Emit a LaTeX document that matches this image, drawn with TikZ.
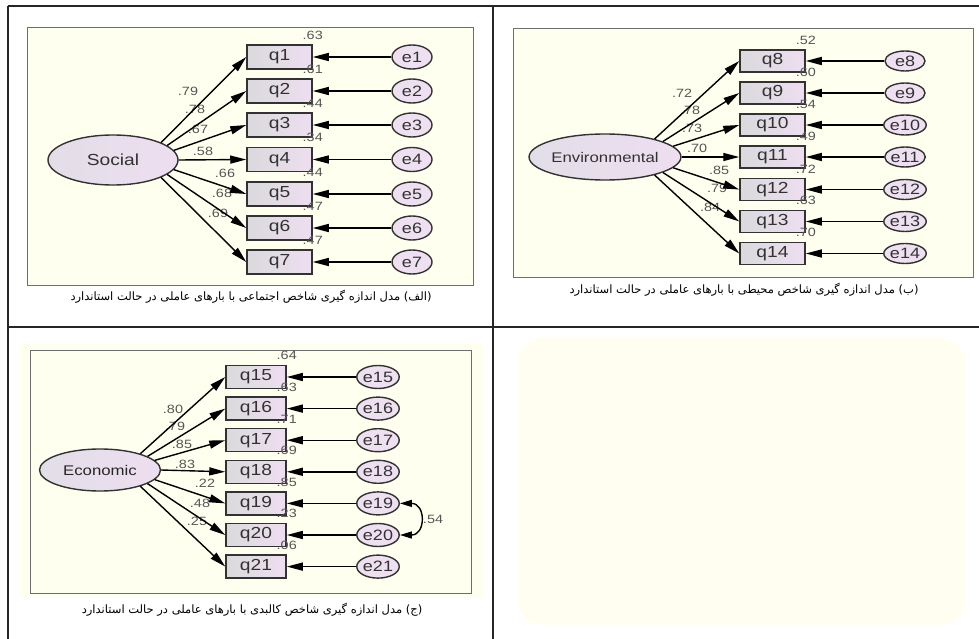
\documentclass[tikz,border=0pt]{standalone}
\usepackage{fontspec}
\usetikzlibrary{arrows.meta, shapes.geometric}
\newfontfamily\amosfont[FakeStretch=1.2]{Liberation Sans}
\newfontfamily\arabicfont[Script=Arabic]{DejaVu Sans}
\TeXXeTstate=1
\definecolor{panelbg}{RGB}{255,255,240}
\definecolor{panelline}{RGB}{110,110,110}
\definecolor{boxline}{RGB}{50,50,50}
\definecolor{boxL}{RGB}{218,218,220}
\definecolor{boxR}{RGB}{238,222,240}
\definecolor{latL}{RGB}{226,222,232}
\definecolor{errfill}{RGB}{238,224,240}
\definecolor{txt}{RGB}{50,50,50}
\definecolor{lbltxt}{RGB}{85,85,85}
\definecolor{cream}{RGB}{255,254,240}
\tikzset{
	obs/.style={rectangle, draw=boxline, line width=1.5pt, minimum width=65pt, minimum height=24pt, left color=boxL, right color=boxR, font=\amosfont\fontsize{16}{16}\selectfont, text=txt},
	err/.style={ellipse, draw=boxline, line width=1.4pt, fill=errfill, inner sep=0pt, minimum width=40pt, minimum height=24pt, font=\amosfont\fontsize{15}{15}\selectfont, text=txt},
	latent/.style={ellipse, draw=boxline, line width=1.4pt, left color=latL, right color=boxR, inner sep=0pt, text=txt},
	lbl/.style={font=\amosfont\fontsize{12}{12}\selectfont, text=lbltxt, inner sep=0pt},
	rsq/.style={lbl, anchor=south, yshift=4.5pt},
	arrow/.style={line width=1.4pt, -{Triangle[length=16pt,width=8pt]}},
	covar/.style={line width=1.4pt, {Triangle[length=12pt,width=7pt]}-{Triangle[length=12pt,width=7pt]}},
	panel/.style={draw=panelline, line width=1pt, fill=panelbg},
	caption/.style={font=\arabicfont\fontsize{11.5}{13}\selectfont, inner sep=0pt, text=black},
	rule/.style={line width=1.3pt, draw=black!85}
}
\begin{document}
\begin{tikzpicture}[x=1pt, y=-1pt]
	\useasboundingbox (0,0) rectangle (979,639);
	% Table
	\fill[cream, rounded corners=25pt] (518,338) rectangle (965,625);
	\draw[rule] (8,6) -- (979,6);
	\draw[rule] (8,6) -- (8,639);
	\draw[rule] (493,6) -- (493,639);
	\draw[rule] (8,327) -- (979,327);
	
	% Panel A: social
	\draw[panel] (27,28) rectangle (473,285);
	\node (S) [latent, minimum width=130pt, minimum height=50pt, font=\amosfont\fontsize{16}{16}\selectfont] at (113,160) {Social};
	\node (q1) [obs, label={[rsq]north east:.63}] at (279.5,57) {q1};
	\node (q2) [obs, label={[rsq]north east:.61}] at (279.5,91) {q2};
	\node (q3) [obs, label={[rsq]north east:.44}] at (279.5,125) {q3};
	\node (q4) [obs, label={[rsq]north east:.34}] at (279.5,159.5) {q4};
	\node (q5) [obs, label={[rsq]north east:.44}] at (279.5,194) {q5};
	\node (q6) [obs, label={[rsq]north east:.47}] at (279.5,228) {q6};
	\node (q7) [obs, label={[rsq]north east:.47}] at (279.5,262) {q7};
	\node (e1) [err] at (412,57) {e1};
	\node (e2) [err] at (412,91) {e2};
	\node (e3) [err] at (412,125) {e3};
	\node (e4) [err] at (412,159.5) {e4};
	\node (e5) [err] at (412,194) {e5};
	\node (e6) [err] at (412,228) {e6};
	\node (e7) [err] at (412,262) {e7};
	\node (l1) [lbl] at (188,91) {.79};
	\node (l2) [lbl] at (195,109) {.78};
	\node (l3) [lbl] at (198,129) {.67};
	\node (l4) [lbl] at (203,151) {.58};
	\node (l5) [lbl] at (225,173) {.66};
	\node (l6) [lbl] at (222,193) {.68};
	\node (l7) [lbl] at (218,213) {.69};
	\draw [arrow] (S.20) -- (q1.west);
	\draw [arrow] (S.15) -- (q2.west);
	\draw [arrow] (S.9) -- (q3.west);
	\draw [arrow] (S.0) -- (q4.west);
	\draw [arrow] (S.-9) -- (q5.west);
	\draw [arrow] (S.-15) -- (q6.west);
	\draw [arrow] (S.-20) -- (q7.west);
	\draw [arrow] (e1) -- (q1);
	\draw [arrow] (e2) -- (q2);
	\draw [arrow] (e3) -- (q3);
	\draw [arrow] (e4) -- (q4);
	\draw [arrow] (e5) -- (q5);
	\draw [arrow] (e6) -- (q6);
	\draw [arrow] (e7) -- (q7);
	\node (capA) [caption] at (251,297) {\beginR(الف) مدل اندازه گیری شاخص اجتماعی با بارهای عاملی در حالت استاندارد\endR};
	
	% Panel B: environmental
	\draw[panel] (513,29) rectangle (973,277);
	\node (V) [latent, minimum width=132pt, minimum height=46pt, font=\amosfont\fontsize{14}{14}\selectfont] at (605,157) {Environmental};
	\node (q8) [obs, minimum height=22pt, label={[rsq]north east:.52}] at (772.5,61) {q8};
	\node (q9) [obs, minimum height=22pt, label={[rsq]north east:.60}] at (772.5,93) {q9};
	\node (q10) [obs, minimum height=22pt, label={[rsq]north east:.54}] at (772.5,125) {q10};
	\node (q11) [obs, minimum height=22pt, label={[rsq]north east:.49}] at (772.5,157) {q11};
	\node (q12) [obs, minimum height=22pt, label={[rsq]north east:.72}] at (772.5,189.5) {q12};
	\node (q13) [obs, minimum height=22pt, label={[rsq]north east:.63}] at (772.5,221.5) {q13};
	\node (q14) [obs, minimum height=22pt, label={[rsq]north east:.70}] at (772.5,253.5) {q14};
	\node (e8) [err, minimum height=20pt] at (905,61) {e8};
	\node (e9) [err, minimum height=20pt] at (905,93) {e9};
	\node (e10) [err, minimum height=20pt] at (905,125) {e10};
	\node (e11) [err, minimum height=20pt] at (905,157) {e11};
	\node (e12) [err, minimum height=20pt] at (905,189.5) {e12};
	\node (e13) [err, minimum height=20pt] at (905,221.5) {e13};
	\node (e14) [err, minimum height=20pt] at (905,253.5) {e14};
	\node (l8) [lbl] at (682,93) {.72};
	\node (l9) [lbl] at (690,110) {.78};
	\node (l10) [lbl] at (692,128) {.73};
	\node (l11) [lbl] at (697,148) {.70};
	\node (l12) [lbl] at (719,170) {.85};
	\node (l13) [lbl] at (717,188) {.79};
	\node (l14) [lbl] at (710,207) {.84};
	\draw [arrow] (V.20) -- (q8.west);
	\draw [arrow] (V.15) -- (q9.west);
	\draw [arrow] (V.9) -- (q10.west);
	\draw [arrow] (V.0) -- (q11.west);
	\draw [arrow] (V.-9) -- (q12.west);
	\draw [arrow] (V.-15) -- (q13.west);
	\draw [arrow] (V.-20) -- (q14.west);
	\draw [arrow] (e8) -- (q8);
	\draw [arrow] (e9) -- (q9);
	\draw [arrow] (e10) -- (q10);
	\draw [arrow] (e11) -- (q11);
	\draw [arrow] (e12) -- (q12);
	\draw [arrow] (e13) -- (q13);
	\draw [arrow] (e14) -- (q14);
	\node (capB) [caption] at (744,290) {\beginR(ب) مدل اندازه گیری  شاخص محیطی با بارهای عاملی در حالت استاندارد\endR};
	
	% Panel C: economic
	\fill[panelbg] (20,343) rectangle (483,598);
	\draw[panel] (30,350) rectangle (471,593);
	\node (C) [latent, minimum width=121pt, minimum height=42pt, font=\amosfont\fontsize{14}{14}\selectfont, text=black!85] at (100,470) {Economic};
	\node (q15) [obs, minimum width=60pt, minimum height=23pt, label={[rsq]north east:.64}] at (256,377) {q15};
	\node (q16) [obs, minimum width=60pt, minimum height=23pt, label={[rsq]north east:.63}] at (256,408.6) {q16};
	\node (q17) [obs, minimum width=60pt, minimum height=23pt, label={[rsq]north east:.71}] at (256,440.2) {q17};
	\node (q18) [obs, minimum width=60pt, minimum height=23pt, label={[rsq]north east:.69}] at (256,471.8) {q18};
	\node (q19) [obs, minimum width=60pt, minimum height=23pt, label={[rsq]north east:.85}] at (256,503.4) {q19};
	\node (q20) [obs, minimum width=60pt, minimum height=23pt, label={[rsq]north east:.23}] at (256,535) {q20};
	\node (q21) [obs, minimum width=60pt, minimum height=23pt, label={[rsq]north east:.06}] at (256,566.6) {q21};
	\node (e15) [err, minimum width=38pt, minimum height=23pt] at (378,377) {e15};
	\node (e16) [err, minimum width=38pt, minimum height=23pt] at (378,408.6) {e16};
	\node (e17) [err, minimum width=38pt, minimum height=23pt] at (378,440.2) {e17};
	\node (e18) [err, minimum width=38pt, minimum height=23pt] at (378,471.8) {e18};
	\node (e19) [err, minimum width=38pt, minimum height=23pt] at (378,503.4) {e19};
	\node (e20) [err, minimum width=38pt, minimum height=23pt] at (378,535) {e20};
	\node (e21) [err, minimum width=38pt, minimum height=23pt] at (378,566.6) {e21};
	\node (l15) [lbl] at (173,409) {.80};
	\node (l16) [lbl] at (175,426) {.79};
	\node (l17) [lbl] at (182,444) {.85};
	\node (l18) [lbl] at (185,464) {.83};
	\node (l19) [lbl] at (205,483) {.22};
	\node (l20) [lbl] at (200,503) {.48};
	\node (l21) [lbl] at (197,521) {.25};
	\draw [arrow] (C.22) -- (q15.west);
	\draw [arrow] (C.16) -- (q16.west);
	\draw [arrow] (C.10) -- (q17.west);
	\draw [arrow] (C.0) -- (q18.west);
	\draw [arrow] (C.-10) -- (q19.west);
	\draw [arrow] (C.-16) -- (q20.west);
	\draw [arrow] (C.-22) -- (q21.west);
	\draw [arrow] (e15) -- (q15);
	\draw [arrow] (e16) -- (q16);
	\draw [arrow] (e17) -- (q17);
	\draw [arrow] (e18) -- (q18);
	\draw [arrow] (e19) -- (q19);
	\draw [arrow] (e20) -- (q20);
	\draw [arrow] (e21) -- (q21);
	\draw [covar] (e19.east) .. controls +(26,0) and +(26,0) .. (e20.east);
	\node (cov) [lbl] at (433,519) {.54};
	\node (capC) [caption] at (252,610) {\beginR(ج) مدل اندازه گیری  شاخص کالبدی با بارهای عاملی در حالت استاندارد\endR};
\end{tikzpicture}
\end{document}
